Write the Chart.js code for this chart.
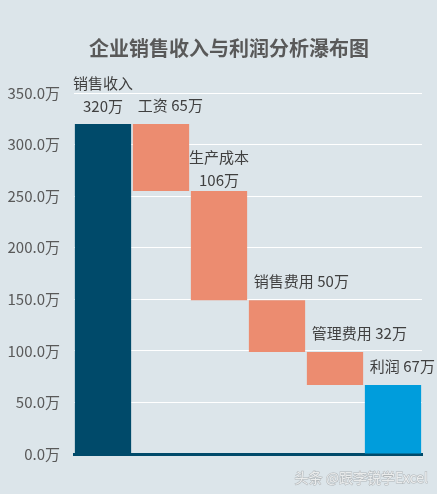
<!DOCTYPE html>
<html lang="zh">
<head>
    <meta charset="UTF-8">
    <title>企业销售收入与利润分析瀑布图</title>
    <script src="https://cdn.jsdelivr.net/npm/chart.js"></script>
    <style>
        body, html {
            margin: 0;
            padding: 0;
            background-color: #dce5ea;
            overflow: hidden;
        }
        .wrap {
            position: relative;
            width: 437px;
            height: 494px;
        }
    </style>
</head>
<body>
    <div class="wrap">
        <canvas id="waterfall"></canvas>
    </div>
    <script>
        const categories = ['销售收入', '工资', '生产成本', '销售费用', '管理费用', '利润'];
        const amounts = [320, 65, 106, 50, 32, 67];
        const kinds = ['total', 'minus', 'minus', 'minus', 'minus', 'total'];
        const yTicks = [0, 50, 100, 150, 200, 250, 300, 350];
        const chartTitle = '企业销售收入与利润分析瀑布图';

        const colors = { total: '#004a6a', minus: '#ec8c70', profit: '#009ddc' };
        const fontFamily = "'Noto Sans CJK SC', 'Noto Sans', sans-serif";

        // floating bars: running balance goes down with each cost
        const ranges = [];
        let level = 0;
        amounts.forEach((v, i) => {
            if (kinds[i] === 'total') {
                ranges.push([0, v]);
                level = v;
            } else {
                ranges.push([level - v, level]);
                level -= v;
            }
        });
        const barColors = kinds.map((k, i) => i === kinds.length - 1 ? colors.profit : colors[k]);

        const labelPlugin = {
            id: 'barLabels',
            afterDatasetsDraw(chart) {
                const ctx = chart.ctx;
                const meta = chart.getDatasetMeta(0);
                ctx.save();
                // title
                ctx.font = 'bold 20px ' + fontFamily;
                ctx.fillStyle = '#595959';
                ctx.textAlign = 'center';
                ctx.textBaseline = 'middle';
                ctx.fillText(chartTitle, 229, 48);

                ctx.font = '15px ' + fontFamily;
                ctx.fillStyle = '#404040';
                meta.data.forEach((bar, i) => {
                    const left = bar.x - bar.width / 2;
                    const top = Math.min(bar.y, bar.base);
                    const valueText = amounts[i] + '万';
                    if (i === 0 || i === 2) {
                        ctx.textAlign = 'center';
                        const off = i === 0 ? 18 : 11;
                        ctx.fillText(categories[i], bar.x, top - off - 23);
                        ctx.fillText(valueText, bar.x, top - off);
                    } else {
                        ctx.textAlign = 'left';
                        ctx.fillText(categories[i] + ' ' + valueText, left + 5, top - 19);
                    }
                });
                // watermark
                ctx.font = '14px ' + fontFamily;
                ctx.textAlign = 'right';
                ctx.fillStyle = 'rgba(255,255,255,0.75)';
                ctx.strokeStyle = 'rgba(120,120,120,0.45)';
                ctx.lineWidth = 1;
                ctx.strokeText('头条 @跟李锐学Excel', 428, 478);
                ctx.fillText('头条 @跟李锐学Excel', 428, 478);
                ctx.restore();
            }
        };

        new Chart(document.getElementById('waterfall'), {
            type: 'bar',
            data: {
                labels: categories,
                datasets: [{
                    data: ranges,
                    backgroundColor: barColors,
                    borderWidth: 0,
                    categoryPercentage: 1,
                    barPercentage: 0.97
                }]
            },
            options: {
                responsive: true,
                maintainAspectRatio: false,
                animation: false,
                layout: { padding: { left: 0, right: 15, bottom: 40, top: 93 } },
                plugins: {
                    legend: { display: false },
                    tooltip: { enabled: false },
                    title: { display: false }
                },
                scales: {
                    x: {
                        ticks: { display: false },
                        grid: { display: false, drawTicks: false },
                        border: { color: '#004a6a', width: 3 }
                    },
                    y: {
                        min: 0,
                        max: 350,
                        afterBuildTicks(scale) {
                            scale.ticks = yTicks.map(v => ({ value: v }));
                        },
                        afterFit(scale) {
                            scale.width = 74;
                        },
                        ticks: {
                            padding: 14,
                            color: '#595959',
                            font: { family: fontFamily, size: 15 },
                            callback: v => v.toFixed(1) + '万'
                        },
                        grid: { color: '#ffffff', lineWidth: 1, drawTicks: false },
                        border: { display: false }
                    }
                }
            },
            plugins: [labelPlugin]
        });
    </script>
</body>
</html>
